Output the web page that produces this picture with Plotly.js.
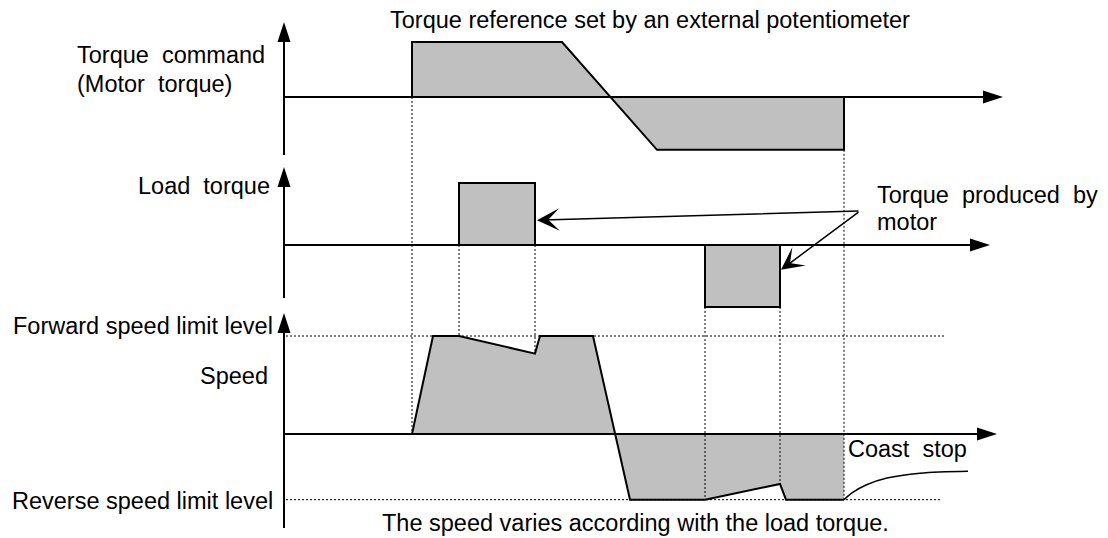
<!DOCTYPE html>
<html><head><meta charset="utf-8">
<script src="https://cdn.plot.ly/plotly-3.0.1.min.js"></script>
<style>html,body{margin:0;padding:0;background:#fff}#chart{width:1108px;height:538px}</style>
</head><body><div id="chart"></div>
<script>
// ---- Data (time in arbitrary units, values in arbitrary units) ----
const tTorqueCmd = [25.6, 25.6, 55.6, 74.6, 112, 112];
const torqueCmd  = [0, 1, 1, -0.96, -0.96, 0];

const tLoadFwd = [35, 35, 50.2, 50.2, 35];
const loadFwd  = [0, 1, 1, 0, 0];
const tLoadRev = [84.2, 84.2, 99.2, 99.2, 84.2];
const loadRev  = [0, -1, -1, 0, 0];

const tSpeed = [25.6, 29.8, 35, 50.2, 51.2, 61.8, 69.2, 84.2, 99.2, 100.4, 112];
const speed  = [0, 100, 100, 82, 100, 100, -67, -67, -51, -67, -67];

const tCoast = [112, 113.6, 116.4, 120.6, 127.2, 136.8];
const coast  = [-67, -60, -52, -45, -40, -38];

const fwdLimit = 100, revLimit = -67;

// guide lines: [time, fromAxis, fromValue, toAxis, toValue]
const guides = [
  [25.6, 'y', 0, 'y3', 0],
  [35, 'y2', 0, 'y3', 100],
  [50.2, 'y2', 0, 'y3', 82],
  [84.2, 'y2', -1, 'y3', -67],
  [99.2, 'y2', -1, 'y3', -51],
  [112, 'y', -0.96, 'y3', -67]
];

// ---- Layout helpers ----
const W = 1108, H = 538;
const FONT = {family: 'Arial, "Liberation Sans", sans-serif', size: 23.5, color: '#000'};
const FILL = '#c0c0c0';
const axes = {
  y:  {domain: [1 - 160/H, 1], range: [-63/55, 97/55]},
  y2: {domain: [1 - 310/H, 1 - 160/H], range: [-65/62, 85/62]},
  y3: {domain: [0, 1 - 310/H], range: [-104/0.98, 124/0.98]}
};
function toPaper(ax, v) {
  const a = axes[ax];
  return a.domain[0] + (v - a.range[0]) / (a.range[1] - a.range[0]) * (a.domain[1] - a.domain[0]);
}
const px = x => x / W, py = y => 1 - y / H;

const line2 = {color: '#000', width: 2};
const traces = [
  {x: tTorqueCmd, y: torqueCmd, yaxis: 'y', mode: 'lines', fill: 'tozeroy', fillcolor: FILL, line: line2},
  {x: tLoadFwd, y: loadFwd, yaxis: 'y2', mode: 'lines', fill: 'toself', fillcolor: FILL, line: line2},
  {x: tLoadRev, y: loadRev, yaxis: 'y2', mode: 'lines', fill: 'toself', fillcolor: FILL, line: line2},
  {x: tSpeed, y: speed, yaxis: 'y3', mode: 'lines', fill: 'tozeroy', fillcolor: FILL, line: line2},
  {x: tCoast, y: coast, yaxis: 'y3', mode: 'lines', line: {color: '#000', width: 1.5, shape: 'spline', smoothing: 1}}
];

const shapes = [];
const dot = {color: '#000', width: 1, dash: '2px,2px'};
// dotted guides
guides.forEach(g => {
  shapes.push({type: 'line', xref: 'x', yref: 'paper', x0: g[0], x1: g[0],
    y0: toPaper(g[1], g[2]), y1: toPaper(g[3], g[4]), line: dot});
});
// speed limit levels
shapes.push({type: 'line', xref: 'x', yref: 'y3', x0: 0.4, x1: 132.2, y0: fwdLimit, y1: fwdLimit, line: dot});
shapes.push({type: 'line', xref: 'x', yref: 'y3', x0: 0.4, x1: 131.2, y0: revLimit, y1: revLimit, line: dot});

// axes with arrows: [yaxis, vertical bottom, vertical top tip, horizontal tip]
const axDefs = [
  ['y', -58/55, 75/55, 143.8],
  ['y2', -53/62, 78/62, 141.2],
  ['y3', -94/0.98, 121/0.98, 142.6]
];
axDefs.forEach(a => {
  const [ya, yb, yt, xt] = a;
  const span = axes[ya].range[1] - axes[ya].range[0];
  const hpx = (axes[ya].domain[1] - axes[ya].domain[0]) * H;
  const perPx = span / hpx;
  shapes.push({type: 'line', xref: 'x', yref: ya, x0: 0, x1: 0, y0: yb, y1: yt - 10 * perPx, line: line2});
  shapes.push({type: 'line', xref: 'x', yref: ya, x0: 0, x1: xt - 2, y0: 0, y1: 0, line: line2});
  shapes.push({type: 'path', xref: 'x', yref: ya, xsizemode: 'pixel', ysizemode: 'pixel',
    xanchor: 0, yanchor: yt, path: 'M0,0 L-6.5,-20 L6.5,-20 Z', fillcolor: '#000', line: {width: 0}});
  shapes.push({type: 'path', xref: 'x', yref: ya, xsizemode: 'pixel', ysizemode: 'pixel',
    xanchor: xt, yanchor: 0, path: 'M0,0 L-20,-6.5 L-20,6.5 Z', fillcolor: '#000', line: {width: 0}});
});

function txt(text, x, y, xanchor) {
  return {text: text, xref: 'paper', yref: 'paper', x: px(x), y: py(y), xanchor: xanchor,
    yanchor: 'middle', showarrow: false, font: FONT, borderpad: 0};
}
const S = '\u00a0';
const annotations = [
  txt('Torque reference set by an external potentiometer', 650, 20, 'center'),
  txt('Torque' + S + S + 'command', 76, 55, 'left'),
  txt('(Motor' + S + S + 'torque)', 76, 84, 'left'),
  txt('Load' + S + S + 'torque', 271, 186, 'right'),
  txt('Forward speed limit level', 274, 326, 'right'),
  txt('Speed', 269, 375.5, 'right'),
  txt('Reverse speed limit level', 274, 500.5, 'right'),
  txt('The speed varies according with the load torque.', 635, 523, 'center'),
  txt('Coast' + S + S + 'stop', 847, 449, 'left'),
  txt('Torque' + S + S + 'produced' + S + S + 'by', 876, 195, 'left'),
  txt('motor', 876, 222, 'left'),
  // pointer arrows to motor-produced torque
  {text: '', xref: 'x', yref: 'y2', axref: 'x', ayref: 'y2', x: 50.6, y: 0.40, ax: 115.2, ay: 0.548,
    showarrow: true, arrowhead: 3, arrowsize: 2.5, arrowwidth: 1.5, arrowcolor: '#000', standoff: 0},
  {text: '', xref: 'x', yref: 'y2', axref: 'x', ayref: 'y2', x: 99.4, y: -0.40, ax: 115.2, ay: 0.548,
    showarrow: true, arrowhead: 3, arrowsize: 2.5, arrowwidth: 1.5, arrowcolor: '#000', standoff: 0}
];

const hidden = {showgrid: false, zeroline: false, showticklabels: false, ticks: '', showline: false, fixedrange: true};
const layout = {
  width: W, height: H,
  margin: {l: 0, r: 0, t: 0, b: 0},
  paper_bgcolor: '#fff', plot_bgcolor: '#fff',
  showlegend: false,
  xaxis: Object.assign({range: [-284/5, (W - 284)/5]}, hidden),
  yaxis: Object.assign({domain: axes.y.domain, range: axes.y.range, anchor: 'x'}, hidden),
  yaxis2: Object.assign({domain: axes.y2.domain, range: axes.y2.range, anchor: 'x'}, hidden),
  yaxis3: Object.assign({domain: axes.y3.domain, range: axes.y3.range, anchor: 'x'}, hidden),
  shapes: shapes,
  annotations: annotations,
  hovermode: false
};
Plotly.newPlot('chart', traces, layout, {staticPlot: true, displayModeBar: false});
</script>
</body></html>
